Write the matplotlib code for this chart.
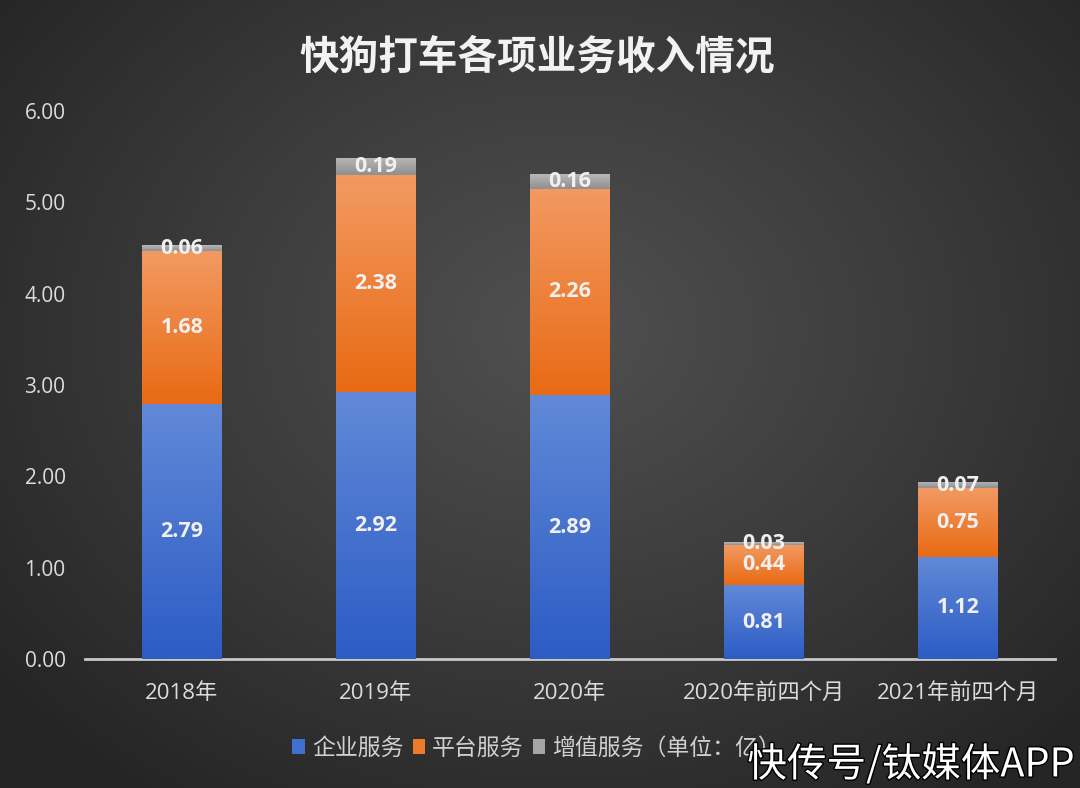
import numpy as np
import matplotlib
matplotlib.use("Agg")
import matplotlib.pyplot as plt
from matplotlib.patches import Patch
import matplotlib.patheffects as pe
from matplotlib.colors import LinearSegmentedColormap

plt.rcParams['font.family'] = ['Open Sans', 'Noto Sans CJK SC', 'DejaVu Sans']

categories = ["2018年", "2019年", "2020年", "2020年前四个月", "2021年前四个月"]
enterprise = [2.79, 2.92, 2.89, 0.81, 1.12]
platform = [1.68, 2.38, 2.26, 0.44, 0.75]
value_added = [0.06, 0.19, 0.16, 0.03, 0.07]
series_names = ["企业服务", "平台服务", "增值服务（单位：亿）"]
yticks = [0, 1, 2, 3, 4, 5, 6]

W, H = 1080, 788
fig = plt.figure(figsize=(W / 100, H / 100), dpi=100)

# radial background
bg = fig.add_axes([0, 0, 1, 1], zorder=-10)
yy, xx = np.mgrid[0:H, 0:W]
cx, cy = 560, 330
r = np.sqrt(((xx - cx) / 700.0) ** 2 + ((yy - cy) / 560.0) ** 2)
r = np.clip(r, 0, 1)
cmap_bg = LinearSegmentedColormap.from_list("bg", ["#505050", "#3c3c3c", "#262626"])
bg.imshow(r, cmap=cmap_bg, aspect='auto', extent=[0, 1, 0, 1], vmin=0, vmax=1)
bg.set_axis_off()

ax = fig.add_axes([85 / W, 1 - 659 / H, (1055 - 85) / W, (659 - 111) / H])
ax.patch.set_alpha(0)
x = np.arange(len(categories))
width = 0.41

grads = [("#6289d8", "#2c5cc4"), ("#f29a62", "#e96a14"), ("#b8b8b8", "#8f8f8f")]
bottoms = np.zeros(len(categories))
all_bars = []
for vals, (ctop, cbot) in zip([enterprise, platform, value_added], grads):
    bars = ax.bar(x, vals, width, bottom=bottoms, color=cbot, linewidth=0, zorder=2)
    cm = LinearSegmentedColormap.from_list("g", [cbot, ctop])
    grad = np.linspace(0, 1, 256).reshape(-1, 1)
    for b in bars:
        x0, y0 = b.get_x(), b.get_y()
        im = ax.imshow(grad, cmap=cm, aspect='auto', origin='lower',
                       extent=[x0, x0 + b.get_width(), y0, y0 + b.get_height()], zorder=3)
        im.set_clip_path(b)
    all_bars.append((bars, vals))
    bottoms = bottoms + np.array(vals)

for bars, vals in all_bars:
    for b, v in zip(bars, vals):
        ax.text(b.get_x() + b.get_width() / 2, b.get_y() + b.get_height() / 2,
                f"{v:.2f}", ha='center', va='center', color='#f0f0f0',
                fontsize=15.5, fontweight='bold', zorder=5)

ax.set_xlim(-0.5, len(categories) - 0.5)
ax.set_ylim(0, 6)
ax.set_yticks(yticks)
ax.set_yticklabels([f"{t:.2f}" for t in yticks])
ax.set_xticks(x)
ax.set_xticklabels(categories)
for s in ['top', 'right', 'left']:
    ax.spines[s].set_visible(False)
ax.spines['bottom'].set_color('#c8c8c8')
ax.spines['bottom'].set_linewidth(2)
ax.tick_params(axis='y', length=0, colors='#dcdcdc', labelsize=15, pad=14)
ax.tick_params(axis='x', length=0, colors='#dcdcdc', labelsize=16, pad=17)

fig.text(0.497, 1 - 57 / H, "快狗打车各项业务收入情况", ha='center', va='center',
         color='#f2f2f2', fontsize=28.5, fontweight='bold',
         family=['Noto Sans CJK SC', 'DejaVu Sans'])

handles = [Patch(facecolor="#3f6fd0", edgecolor='none'),
           Patch(facecolor="#ee7a2a", edgecolor='none'),
           Patch(facecolor="#a5a5a5", edgecolor='none')]
leg = fig.legend(handles, series_names, loc='center', bbox_to_anchor=(0.497, 1 - 748 / H),
                 ncol=3, frameon=False, handlelength=0.55, handleheight=0.65,
                 handletextpad=0.3, columnspacing=0.4,
                 prop={'family': ['Noto Sans CJK SC', 'DejaVu Sans'], 'size': 16.5})
for t in leg.get_texts():
    t.set_color('#d0d0d0')

fig.text(1075 / W, 1 - 765 / H, "快传号/钛媒体APP", ha='right', va='center',
         color='white', fontsize=28.5, family=['Noto Sans CJK SC', 'DejaVu Sans'],
         path_effects=[pe.withStroke(linewidth=2, foreground='black')], zorder=20)

fig.savefig("out.png", dpi=100)
